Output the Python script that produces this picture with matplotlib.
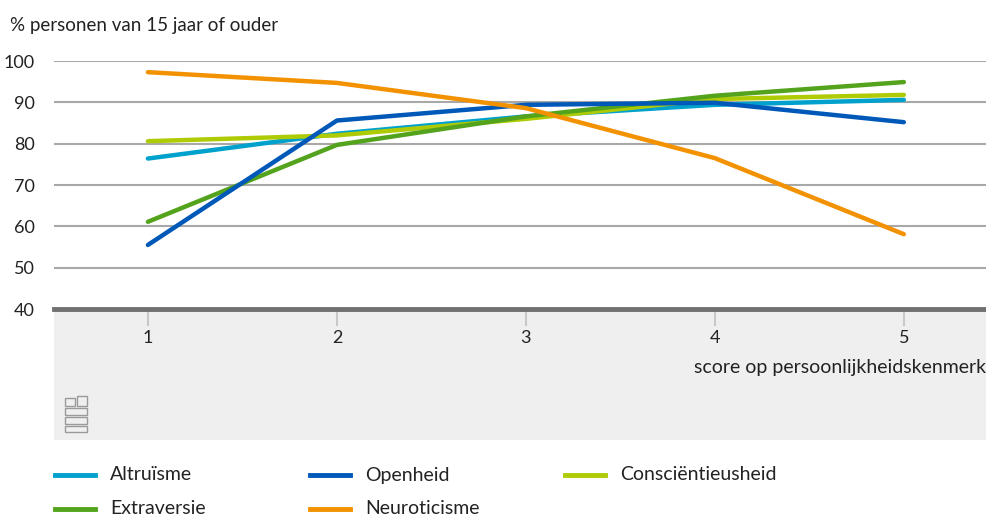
import matplotlib
matplotlib.use("Agg")
import matplotlib.pyplot as plt
from matplotlib.lines import Line2D
from matplotlib.patches import Rectangle

plt.rcParams['font.family'] = ['Lato', 'DejaVu Sans']

# data
scores = [1, 2, 3, 4, 5]
altruisme = [76.4, 82.4, 86.6, 89.4, 90.6]
openheid = [55.5, 85.6, 89.4, 89.9, 85.2]
conscientieusheid = [80.6, 82.0, 86.0, 90.8, 91.8]
extraversie = [61.1, 79.7, 86.6, 91.6, 94.9]
neuroticisme = [97.3, 94.7, 88.6, 76.5, 58.1]

labels = ['Altruïsme', 'Openheid', 'Consciëntieusheid', 'Extraversie', 'Neuroticisme']
colors = {'Altruïsme': '#00a1cd', 'Openheid': '#0058b8', 'Consciëntieusheid': '#afcb05',
          'Extraversie': '#53a31d', 'Neuroticisme': '#f39200'}
series = {'Altruïsme': altruisme, 'Openheid': openheid, 'Consciëntieusheid': conscientieusheid,
          'Extraversie': extraversie, 'Neuroticisme': neuroticisme}
draw_order = ['Altruïsme', 'Consciëntieusheid', 'Extraversie', 'Openheid', 'Neuroticisme']

W, H = 987, 520
fig = plt.figure(figsize=(W / 100, H / 100), dpi=100)

# axes: x from 54 to 987 px, y from 61 (100) to 309 (40)
ax_h = 309 - 61
ax = fig.add_axes([54 / W, 1 - 309 / H, (W - 54) / W, ax_h / H])
ax.set_xlim(0.503, 5.44)
ax.set_ylim(40, 100)

# grey band below the plot area (drawn in axes coords, under the tick labels)
ax.add_patch(Rectangle((0, -131 / ax_h), 1, 131 / ax_h, transform=ax.transAxes,
                       facecolor='#efefef', edgecolor='none', clip_on=False, zorder=0))

for y in range(50, 101, 10):
    ax.axhline(y, color='#a8a8a8', lw=1.5, zorder=1)
ax.axhline(40, color='#707070', lw=3.5, zorder=5, clip_on=False)

for name in draw_order:
    ax.plot(scores, series[name], color=colors[name], lw=3.2,
            solid_capstyle='round', zorder=3)

for s in ax.spines.values():
    s.set_visible(False)
ax.set_yticks(range(40, 101, 10))
ax.tick_params(axis='y', length=0, pad=14, labelsize=13, labelcolor='#222222')
ax.set_xticks(scores)
ax.tick_params(axis='x', length=12, width=1.5, color='#c8c8c8', pad=3,
               labelsize=13, labelcolor='#222222')

fig.text(10 / W, 1 - 25 / H, '% personen van 15 jaar of ouder', fontsize=13.5,
         color='#222222', va='center', ha='left')
fig.text(986 / W, 1 - 367 / H, 'score op persoonlijkheidskenmerk', fontsize=14,
         color='#222222', va='center', ha='right')

# small cbs logo outline (x, y-top, width, height in pixels)
logo = [(65, 398, 10, 8), (77, 396, 10, 10), (65, 408, 22, 7), (65, 417, 22, 7),
        (65, 426, 22, 6)]
for lx, ly, bw, bh in logo:
    fig.patches.append(Rectangle((lx / W, 1 - (ly + bh) / H), bw / W, bh / H,
                                 transform=fig.transFigure, facecolor='none',
                                 edgecolor='#9a9a9a', lw=1.0, zorder=2))

# legend, laid out in a 3-column grid
for i, name in enumerate(labels):
    col, row = i % 3, i // 3
    x0 = 55 + col * 255
    y0 = 475 + row * 34
    fig.lines.append(Line2D([x0 / W, (x0 + 40) / W], [1 - y0 / H, 1 - y0 / H],
                            transform=fig.transFigure, color=colors[name], lw=3.5))
    fig.text((x0 + 55) / W, 1 - y0 / H, name, fontsize=14, color='#222222',
             va='center', ha='left')

fig.savefig('out.png', dpi=100)
